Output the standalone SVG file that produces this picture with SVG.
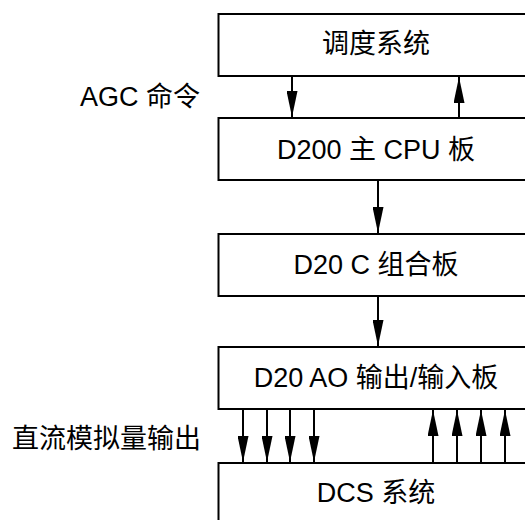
<svg xmlns="http://www.w3.org/2000/svg" width="525" height="520" viewBox="0 0 525 520">
<style>
.box{fill:#fff;stroke:#000;stroke-width:2}
.t{font-family:"Liberation Sans","Noto Sans CJK SC",sans-serif;font-size:27px;fill:#000}
.c{text-anchor:middle}
.ln{stroke:#000;stroke-width:2;fill:none}
</style>
<defs>
<marker id="ah" viewBox="0 0 26 11" refX="26" refY="5.5" markerWidth="26" markerHeight="11" markerUnits="userSpaceOnUse" orient="auto">
<path d="M0,0 L26,5.5 L0,11 z" fill="#000"/>
</marker>
</defs>
<rect width="525" height="520" fill="#fff"/>
<g id="dispatch"><rect class="box" x="218.5" y="14" width="316" height="62"/><text class="t c" x="376" y="53">调度系统</text></g>
<g id="cpu"><rect class="box" x="218.5" y="118" width="316" height="62"/><text class="t c" x="376" y="159">D200 主 CPU 板</text></g>
<g id="combo"><rect class="box" x="218.5" y="234" width="316" height="62"/><text class="t c" x="376" y="274">D20 C 组合板</text></g>
<g id="ao"><rect class="box" x="218.5" y="347" width="316" height="62"/><text class="t c" x="376" y="387">D20 AO 输出/输入板</text></g>
<g id="dcs"><rect class="box" x="218.5" y="463" width="316" height="70"/><text class="t c" x="376" y="502">DCS 系统</text></g>
<g id="labels">
<text class="t" x="80" y="106">AGC 命令</text>
<text class="t" x="12" y="448">直流模拟量输出</text>
</g>
<g id="connectors">
<line class="ln" x1="292" y1="76" x2="292" y2="117" marker-end="url(#ah)"/>
<line class="ln" x1="459" y1="118" x2="459" y2="77" marker-end="url(#ah)"/>
<line class="ln" x1="378" y1="180" x2="378" y2="233" marker-end="url(#ah)"/>
<line class="ln" x1="378" y1="296" x2="378" y2="346" marker-end="url(#ah)"/>
<line class="ln" x1="243" y1="409" x2="243" y2="462" marker-end="url(#ah)"/>
<line class="ln" x1="267" y1="409" x2="267" y2="462" marker-end="url(#ah)"/>
<line class="ln" x1="290" y1="409" x2="290" y2="462" marker-end="url(#ah)"/>
<line class="ln" x1="314" y1="409" x2="314" y2="462" marker-end="url(#ah)"/>
<line class="ln" x1="433" y1="463" x2="433" y2="410" marker-end="url(#ah)"/>
<line class="ln" x1="457" y1="463" x2="457" y2="410" marker-end="url(#ah)"/>
<line class="ln" x1="481" y1="463" x2="481" y2="410" marker-end="url(#ah)"/>
<line class="ln" x1="505" y1="463" x2="505" y2="410" marker-end="url(#ah)"/>
</g>
</svg>
